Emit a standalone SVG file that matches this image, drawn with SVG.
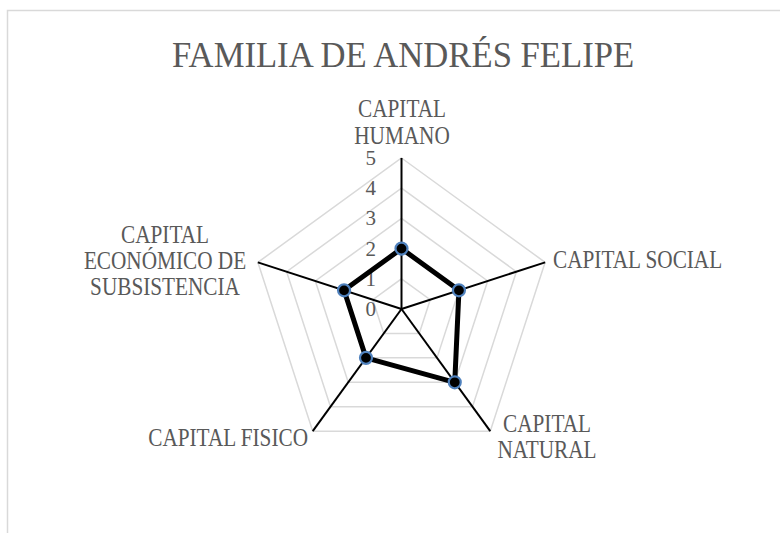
<svg xmlns="http://www.w3.org/2000/svg" width="780" height="533" viewBox="0 0 780 533">
<style>
.t{font-family:"Liberation Serif","Times New Roman",serif;fill:#595959}
.lab{font-size:25px}
.val{font-size:21px;text-anchor:end}
.grid{fill:none;stroke:#d9d9d9;stroke-width:1.5}
.axis{stroke:#000;stroke-width:2}
.mk{fill:#000;stroke:#4f81bd;stroke-width:2.2}
</style>
<rect x="0" y="0" width="780" height="533" fill="#fff"/>
<path d="M7.5,533 V10.5 H780" fill="none" stroke="#d9d9d9" stroke-width="1.5"/>
<text id="title" class="t" transform="matrix(0.99 0 0 1 403 67)" font-size="35" text-anchor="middle">FAMILIA DE ANDRÉS FELIPE</text>
<g id="grid">
<polygon class="grid" points="401.5,278.8 430.22,299.67 419.25,333.43 383.75,333.43 372.78,299.67"/>
<polygon class="grid" points="401.5,248.6 458.95,290.34 437,357.86 366,357.86 344.05,290.34"/>
<polygon class="grid" points="401.5,218.4 487.67,281 454.75,382.3 348.25,382.3 315.33,281"/>
<polygon class="grid" points="401.5,188.2 516.39,271.67 472.5,406.73 330.5,406.73 286.61,271.67"/>
<polygon class="grid" points="401.5,158 545.12,262.34 490.26,431.16 312.74,431.16 257.88,262.34"/>
</g>
<g id="connectors">
<line class="axis" x1="401.5" y1="309" x2="401.5" y2="158"/>
<line class="axis" x1="401.5" y1="309" x2="545.12" y2="262.34"/>
<line class="axis" x1="401.5" y1="309" x2="490.26" y2="431.16"/>
<line class="axis" x1="401.5" y1="309" x2="312.74" y2="431.16"/>
<line class="axis" x1="401.5" y1="309" x2="257.88" y2="262.34"/>
</g>
<g id="scale" class="t val">
<text x="376" y="165">5</text>
<text x="376" y="195.2">4</text>
<text x="376" y="225.4">3</text>
<text x="376" y="255.6">2</text>
<text x="376" y="285.8">1</text>
<text x="376" y="316">0</text>
</g>
<g id="series">
<polygon points="401.5,248.6 458.95,290.34 454.75,382.3 366,357.86 344.05,290.34" fill="none" stroke="#000" stroke-width="5" stroke-linejoin="round"/>
<circle class="mk" cx="401.5" cy="248.6" r="6"/>
<circle class="mk" cx="458.95" cy="290.34" r="6"/>
<circle class="mk" cx="454.75" cy="382.3" r="6"/>
<circle class="mk" cx="366" cy="357.86" r="6"/>
<circle class="mk" cx="344.05" cy="290.34" r="6"/>
</g>
<g id="capital-humano" class="t lab" text-anchor="middle">
<text transform="matrix(0.85 0 0 1 402 117)">CAPITAL</text>
<text transform="matrix(0.85 0 0 1 402 144)">HUMANO</text>
</g>
<g id="capital-social" class="t lab">
<text transform="matrix(0.85 0 0 1 553 268)">CAPITAL SOCIAL</text>
</g>
<g id="capital-natural" class="t lab" text-anchor="middle">
<text transform="matrix(0.85 0 0 1 547 432)">CAPITAL</text>
<text transform="matrix(0.85 0 0 1 547 458)">NATURAL</text>
</g>
<g id="capital-fisico" class="t lab" text-anchor="end">
<text transform="matrix(0.85 0 0 1 308 445.5)">CAPITAL FISICO</text>
</g>
<g id="capital-economico" class="t lab" text-anchor="middle">
<text transform="matrix(0.85 0 0 1 165 243)">CAPITAL</text>
<text transform="matrix(0.85 0 0 1 165 269)">ECONÓMICO DE</text>
<text transform="matrix(0.85 0 0 1 165 295)">SUBSISTENCIA</text>
</g>
</svg>
